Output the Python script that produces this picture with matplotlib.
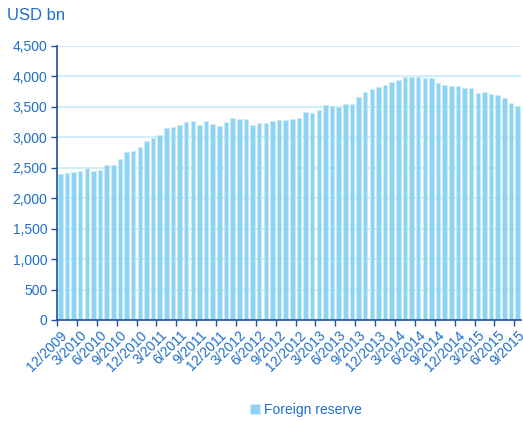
import matplotlib.pyplot as plt
import numpy as np

plt.rcParams["font.family"] = ["Liberation Sans", "DejaVu Sans"]

# China foreign exchange reserves, monthly, USD bn
months = [
    "12/2009", "1/2010", "2/2010", "3/2010", "4/2010", "5/2010", "6/2010", "7/2010",
    "8/2010", "9/2010", "10/2010", "11/2010", "12/2010", "1/2011", "2/2011", "3/2011",
    "4/2011", "5/2011", "6/2011", "7/2011", "8/2011", "9/2011", "10/2011", "11/2011",
    "12/2011", "1/2012", "2/2012", "3/2012", "4/2012", "5/2012", "6/2012", "7/2012",
    "8/2012", "9/2012", "10/2012", "11/2012", "12/2012", "1/2013", "2/2013", "3/2013",
    "4/2013", "5/2013", "6/2013", "7/2013", "8/2013", "9/2013", "10/2013", "11/2013",
    "12/2013", "1/2014", "2/2014", "3/2014", "4/2014", "5/2014", "6/2014", "7/2014",
    "8/2014", "9/2014", "10/2014", "11/2014", "12/2014", "1/2015", "2/2015", "3/2015",
    "4/2015", "5/2015", "6/2015", "7/2015", "8/2015", "9/2015",
]
reserve = [
    2399, 2415, 2425, 2447, 2491, 2440, 2454, 2538,
    2548, 2648, 2760, 2768, 2847, 2935, 2991, 3045,
    3145, 3166, 3198, 3245, 3262, 3202, 3274, 3221,
    3181, 3254, 3310, 3305, 3299, 3206, 3240, 3240,
    3273, 3285, 3287, 3297, 3312, 3410, 3395, 3443,
    3535, 3515, 3497, 3548, 3553, 3663, 3736, 3790,
    3821, 3866, 3914, 3948, 3981, 3984, 3993, 3966,
    3969, 3888, 3853, 3847, 3843, 3813, 3802, 3730,
    3748, 3711, 3694, 3651, 3557, 3514,
]

text_blue = "#1F6FC9"
axis_blue = "#1F4E9C"
bar_blue = "#8DD3F4"

fig = plt.figure(figsize=(5.23, 4.21), dpi=100)
ax = fig.add_axes([0.109, 0.240, 0.887, 0.651])

x = np.arange(len(reserve))
ax.bar(x, reserve, width=0.68, color=bar_blue, edgecolor="#CDEDFB",
       linewidth=0.5, label="Foreign reserve", zorder=2)

ax.set_xlim(-0.5, len(reserve) - 0.5)
ax.set_ylim(0, 4500)
ax.set_yticks(np.arange(0, 4501, 500))
ax.set_yticklabels([f"{v:,}" for v in range(0, 4501, 500)])
ax.yaxis.grid(True, color="#C8EAF8", linewidth=1.2, zorder=0)

# tick marks between categories, labels every 3rd month
ax.set_xticks(np.arange(-0.5, len(reserve), 3))
ax.set_xticklabels([])
ax.set_xticks(x[::3], minor=True)
ax.set_xticklabels(months[::3], minor=True, rotation=45, ha="right",
                   va="top", rotation_mode="anchor", color=text_blue, fontsize=10)
ax.tick_params(axis="x", which="minor", length=0, pad=6)
ax.tick_params(axis="x", which="major", length=4, color=axis_blue, width=1)
ax.tick_params(axis="y", length=4, color=axis_blue, width=1,
               labelcolor=text_blue, labelsize=10, pad=3)

for side in ["top", "right"]:
    ax.spines[side].set_visible(False)
for side in ["left", "bottom"]:
    ax.spines[side].set_color(axis_blue)
    ax.spines[side].set_linewidth(1.2)

fig.text(0.013, 0.962, "USD bn", color=text_blue, fontsize=12, va="center")

leg = fig.legend(loc="center", bbox_to_anchor=(0.585, 0.026), frameon=False,
                 handlelength=0.7, handleheight=0.7, handletextpad=0.3,
                 fontsize=10)
for t in leg.get_texts():
    t.set_color(text_blue)

fig.savefig("out.png", dpi=100)
